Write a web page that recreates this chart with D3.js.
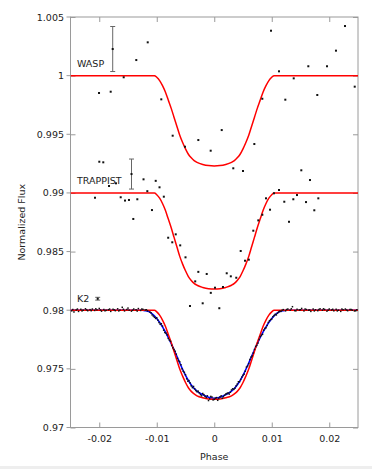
<!DOCTYPE html>
<html><head><meta charset="utf-8">
<script src="https://cdn.jsdelivr.net/npm/d3@7"></script>
<style>
html,body{margin:0;padding:0;background:#fff;}
svg{display:block;font-family:"DejaVu Sans",sans-serif;}
</style></head>
<body><svg id="c" width="372" height="469"></svg>
<script>
// ---- axis ticks ----
const xTicks = [-0.02, -0.01, 0, 0.01, 0.02];
const xTickLabels = ["-0.02", "-0.01", "0", "0.01", "0.02"];
const yTicks = [0.97, 0.975, 0.98, 0.985, 0.99, 0.995, 1, 1.005];
const yTickLabels = ["0.97", "0.975", "0.98", "0.985", "0.99", "0.995", "1", "1.005"];
const seriesNames = ["WASP", "TRAPPIST", "K2"];

// ---- data: [phase, flux] ----
const waspData = [
[-0.02004,0.99852],[-0.01801,0.99863],[-0.01575,0.99986],[-0.01356,1.00133],[-0.01157,1.00284],
[-0.00921,0.99798],[-0.00723,0.99488],[-0.00509,0.99394],[-0.00277,0.99451],[-0.00062,0.99360],
[0.00130,0.99536],[0.00331,0.99210],[0.00500,0.99187],[0.00697,0.99417],[0.00836,0.99803],
[0.00987,1.00383],[0.01126,1.00037],[0.01236,0.99795],[0.01382,0.99977],[0.01636,1.00080],
[0.01792,0.99835],[0.01961,1.00080],[0.02117,1.00213],[0.02274,1.00423],[0.02443,0.99906]
];
const trappistData = [
[-0.02074,0.98959],[-0.01999,0.99266],[-0.01930,0.99261],[-0.01830,0.99059],[-0.01709,0.99082],
[-0.01627,0.98963],[-0.01552,0.98935],[-0.01483,0.98940],[-0.01408,0.98778],[-0.01338,0.98946],
[-0.01230,0.99116],[-0.01164,0.99015],[-0.01083,0.98854],[-0.01018,0.99103],[-0.00952,0.99048],
[-0.00877,0.98968],[-0.00801,0.98618],[-0.00730,0.98579],[-0.00670,0.98647],[-0.00592,0.98553],
[-0.00500,0.98451],[-0.00422,0.98036],[-0.00331,0.98246],[-0.00277,0.98327],[-0.00201,0.98059],
[-0.00131,0.98309],[-0.00060,0.98148],[0.00013,0.98192],[0.00088,0.98017],[0.00152,0.98198],
[0.00217,0.98315],[0.00288,0.98289],[0.00383,0.98277],[0.00460,0.98505],[0.00535,0.98422],
[0.00601,0.98431],[0.00679,0.98678],[0.00766,0.98766],[0.00836,0.98814],[0.00900,0.98954],
[0.00970,0.98857],[0.01039,0.98997],[0.01126,0.99025],[0.01218,0.98925],[0.01300,0.98754],
[0.01375,0.98946],[0.01439,0.98982],[0.01514,0.99193],[0.01596,0.98922],[0.01665,0.99110],
[0.01740,0.98852],[0.01810,0.98954]
];
const k2Data = [
[-0.0248,0.97995],[-0.0244,0.97985],[-0.0240,0.98002],[-0.0236,0.97990],[-0.0232,0.98008],
[-0.0228,0.98000],[-0.0224,0.98012],[-0.0220,0.97996],[-0.0216,0.98005],[-0.0212,0.98010],
[-0.0208,0.97998],[-0.0204,0.98003],[-0.0200,0.98015],[-0.0196,0.97992],[-0.0192,0.98006],
[-0.0188,0.97999],[-0.0184,0.98004],[-0.0180,0.97990],[-0.0176,0.98008],[-0.0172,0.97996],
[-0.0168,0.98012],[-0.0164,0.98001],[-0.0160,0.98025],[-0.0156,0.97994],[-0.0152,0.98006],
[-0.0148,0.98000],[-0.0144,0.97992],[-0.0140,0.98010],[-0.0136,0.98004],[-0.0132,0.98014],
[-0.0128,0.97998],[-0.0124,0.98007],[-0.0120,0.98002],[-0.0116,0.97995],
[-0.0246,0.98006],[-0.0238,0.98010],[-0.0230,0.97994],[-0.0222,0.98003],[-0.0214,0.97996],
[-0.0206,0.98012],[-0.0198,0.98002],[-0.0190,0.97995],[-0.0182,0.98010],[-0.0174,0.98003],
[-0.0166,0.97994],[-0.0158,0.98008],[-0.0150,0.98018],[-0.0142,0.98000],[-0.0134,0.97993],
[-0.0126,0.98010],[-0.0118,0.98004],
[-0.0112,0.97985],[-0.0108,0.97960],[-0.0104,0.97940],[-0.0100,0.97935],[-0.0096,0.97895],
[-0.0092,0.97885],[-0.0088,0.97830],[-0.0084,0.97805],[-0.0080,0.97760],[-0.0076,0.97735],
[-0.0072,0.97680],[-0.0068,0.97650],[-0.0064,0.97590],[-0.0060,0.97560],[-0.0056,0.97500],
[-0.0052,0.97470],[-0.0048,0.97415],[-0.0044,0.97400],[-0.0040,0.97355],[-0.0036,0.97350],
[-0.0032,0.97315],[-0.0028,0.97310],[-0.0024,0.97280],[-0.0020,0.97290],[-0.0016,0.97265],
[-0.0012,0.97270],[-0.0008,0.97245],[-0.0004,0.97260],[0.0000,0.97240],[0.0004,0.97255],
[0.0008,0.97248],[0.0012,0.97270],[0.0016,0.97262],[0.0020,0.97285],[0.0024,0.97295],
[0.0028,0.97300],[0.0032,0.97330],[0.0036,0.97335],[0.0040,0.97370],[0.0044,0.97390],
[0.0048,0.97430],[0.0052,0.97455],[0.0056,0.97515],[0.0060,0.97545],[0.0064,0.97600],
[0.0068,0.97635],[0.0072,0.97690],[0.0076,0.97720],[0.0080,0.97775],[0.0084,0.97795],
[0.0088,0.97845],[0.0092,0.97870],[0.0096,0.97910],[0.0100,0.97925],[0.0104,0.97955],
[0.0108,0.97960],[0.0112,0.97985],[0.0116,0.97990],
[-0.0110,0.97978],[-0.0106,0.97950],[-0.0102,0.97930],[-0.0098,0.97915],[-0.0094,0.97880],
[-0.0090,0.97865],[-0.0086,0.97810],[-0.0082,0.97790],[-0.0078,0.97745],[-0.0074,0.97700],
[-0.0070,0.97665],[-0.0066,0.97625],[-0.0062,0.97570],[-0.0058,0.97535],[-0.0054,0.97480],
[-0.0050,0.97450],[-0.0046,0.97395],[-0.0042,0.97380],[-0.0038,0.97340],[-0.0034,0.97330],
[-0.0030,0.97305],[-0.0026,0.97295],[-0.0022,0.97270],[-0.0018,0.97280],[-0.0014,0.97255],
[-0.0010,0.97230],[-0.0006,0.97265],[-0.0002,0.97235],[0.0002,0.97250],[0.0006,0.97232],
[0.0010,0.97262],[0.0014,0.97250],[0.0018,0.97275],[0.0022,0.97290],[0.0026,0.97285],
[0.0030,0.97320],[0.0034,0.97325],[0.0038,0.97355],[0.0042,0.97390],[0.0046,0.97410],
[0.0050,0.97445],[0.0054,0.97480],[0.0058,0.97525],[0.0062,0.97580],[0.0066,0.97610],
[0.0070,0.97665],[0.0074,0.97700],[0.0078,0.97750],[0.0082,0.97785],[0.0086,0.97830],
[0.0090,0.97850],[0.0094,0.97895],[0.0098,0.97920],[0.0102,0.97945],[0.0106,0.97965],
[0.0110,0.97975],[0.0114,0.97992],
[0.0120,0.98005],[0.0124,0.97995],[0.0128,0.98010],[0.0132,0.98000],[0.0136,0.98030],
[0.0140,0.97996],[0.0144,0.98008],[0.0148,0.98002],[0.0152,0.98015],[0.0156,0.97994],
[0.0160,0.98006],[0.0164,0.98000],[0.0168,0.97990],[0.0172,0.98010],[0.0176,0.98004],
[0.0180,0.97996],[0.0184,0.98012],[0.0188,0.98000],[0.0192,0.98006],[0.0196,0.97992],
[0.0200,0.98010],[0.0204,0.98002],[0.0208,0.97995],[0.0212,0.98008],[0.0216,0.98000],
[0.0220,0.97990],[0.0224,0.98004],[0.0228,0.98010],[0.0232,0.97996],[0.0236,0.98006],
[0.0240,0.98000],[0.0244,0.97994],[0.0248,0.98004],
[0.0118,0.98000],[0.0126,0.98006],[0.0134,0.98012],[0.0142,0.97995],[0.0150,0.98004],
[0.0158,0.98010],[0.0166,0.98002],[0.0174,0.97994],[0.0182,0.98006],[0.0190,0.98012],
[0.0198,0.98000],[0.0206,0.98008],[0.0214,0.97994],[0.0222,0.98010],[0.0230,0.98002],
[0.0238,0.98006],[0.0246,0.97996]
];
// error-bar markers: [phase, flux, halfError]
const errorBars = [
[-0.01766, 1.00227, 0.00192],
[-0.01439, 0.99161, 0.00128],
[-0.02027, 0.98098, 0.00012]
];

// ---- model curves ----
const modelPhase = [-0.025,-0.0104,-0.0100,-0.0095,-0.0090,-0.0085,-0.0080,-0.0075,-0.0070,-0.0065,
 -0.0060,-0.0055,-0.0050,-0.0045,-0.0040,-0.0035,-0.0030,-0.0020,-0.0010,0,
 0.0010,0.0020,0.0030,0.0035,0.0040,0.0045,0.0050,0.0055,0.0060,0.0065,
 0.0070,0.0075,0.0080,0.0085,0.0090,0.0095,0.0100,0.0104,0.025];
const waspModel = [1,1,0.99986,0.99958,0.99915,0.99861,0.99792,0.99723,0.99646,0.99569,
 0.99492,0.99430,0.99376,0.99330,0.99299,0.99276,0.99261,0.99243,0.99233,0.99230,
 0.99233,0.99243,0.99261,0.99276,0.99299,0.99330,0.99376,0.99430,0.99492,0.99569,
 0.99646,0.99723,0.99792,0.99861,0.99915,0.99958,0.99986,1,1];
const trappistModel = [0.99,0.99,0.98985,0.98955,0.98910,0.98852,0.98779,0.98705,0.98623,0.98541,
 0.98459,0.98393,0.98336,0.98287,0.98254,0.98229,0.98213,0.98194,0.98183,0.98180,
 0.98183,0.98194,0.98213,0.98229,0.98254,0.98287,0.98336,0.98393,0.98459,0.98541,
 0.98623,0.98705,0.98779,0.98852,0.98910,0.98955,0.98985,0.99,0.99];
const k2Model = [0.98,0.98,0.97986,0.97958,0.97916,0.97863,0.97795,0.97726,0.97650,0.97574,
 0.97498,0.97438,0.97384,0.97339,0.97308,0.97286,0.97270,0.97253,0.97243,0.97240,
 0.97243,0.97253,0.97270,0.97286,0.97308,0.97339,0.97384,0.97438,0.97498,0.97574,
 0.97650,0.97726,0.97795,0.97863,0.97916,0.97958,0.97986,0.98,0.98];
const k2BluePhase = [-0.025,-0.0125,-0.012,-0.011,-0.010,-0.009,-0.008,-0.007,-0.006,-0.005,-0.004,-0.003,-0.002,-0.001,0,
 0.001,0.002,0.003,0.004,0.005,0.006,0.007,0.008,0.009,0.010,0.011,0.012,0.0125,0.025];
const k2BlueModel = [0.98,0.98,0.97996,0.97978,0.97929,0.97858,0.97768,0.97663,0.97550,0.97445,0.97363,0.97310,0.97280,0.97258,0.97250,
 0.97258,0.97280,0.97310,0.97363,0.97445,0.97550,0.97663,0.97768,0.97858,0.97929,0.97978,0.97996,0.98,0.98];
// series label anchor levels (flux)
const labelFlux = [1.00074, 0.99076, 0.98072];

// ---- drawing ----
const svg = d3.select("#c");
const L = 70.5, R = 358, T = 17, B = 427.5;
const x = d3.scaleLinear().domain([-0.025, 0.025]).range([L, R]);
const y = d3.scaleLinear().domain([0.97, 1.005]).range([B, T]);
const frame = "#9a9a9a", textCol = "#222";

// bottom strip
svg.append("rect").attr("x",0).attr("y",466).attr("width",372).attr("height",3).attr("fill","#eeeeee");

// frame
svg.append("rect").attr("x",L).attr("y",T).attr("width",R-L).attr("height",B-T)
  .attr("fill","none").attr("stroke",frame).attr("stroke-width",1);

const styleAxis = g => {
  g.select(".domain").remove();
  g.selectAll(".tick line").attr("stroke", frame);
  g.selectAll(".tick text").attr("fill", textCol).style("font-size","9.5px").style("font-family","DejaVu Sans");
};
svg.append("g").attr("transform",`translate(${L},0)`)
  .call(d3.axisLeft(y).tickValues(yTicks).tickFormat((d,i)=>yTickLabels[i]).tickSizeInner(-5).tickSizeOuter(0).tickPadding(6.5))
  .call(styleAxis);
// outward part of left ticks
svg.append("g").selectAll("line").data(yTicks).join("line")
  .attr("x1",L-4).attr("x2",L).attr("y1",d=>y(d)).attr("y2",d=>y(d)).attr("stroke",frame);
svg.append("g").attr("transform",`translate(${R},0)`)
  .call(d3.axisRight(y).tickValues(yTicks).tickFormat("").tickSizeInner(-5).tickSizeOuter(0))
  .call(styleAxis);
svg.append("g").attr("transform",`translate(0,${B})`)
  .call(d3.axisBottom(x).tickValues(xTicks).tickFormat((d,i)=>xTickLabels[i]).tickSizeInner(-5).tickSizeOuter(0).tickPadding(8))
  .call(styleAxis);
svg.append("g").attr("transform",`translate(0,${T})`)
  .call(d3.axisTop(x).tickValues(xTicks).tickFormat("").tickSizeInner(-5).tickSizeOuter(0))
  .call(styleAxis);

// axis titles
svg.append("text").attr("x",(L+R)/2).attr("y",460).attr("text-anchor","middle")
  .attr("fill",textCol).style("font-size","9.5px").text("Phase");
svg.append("text").attr("transform",`translate(25,${(T+B)/2}) rotate(-90)`).attr("text-anchor","middle")
  .attr("fill",textCol).style("font-size","9.5px").text("Normalized Flux");

// model curves
const line = d3.line().x(d=>x(d[0])).y(d=>y(d[1])).curve(d3.curveMonotoneX);
const zip = (a,b) => a.map((v,i)=>[v,b[i]]);
const clipId = "plotclip";
svg.append("clipPath").attr("id",clipId).append("rect").attr("x",L).attr("y",T).attr("width",R-L).attr("height",B-T);
const plot = svg.append("g").attr("clip-path",`url(#${clipId})`);
plot.append("path").datum(zip(k2BluePhase,k2BlueModel)).attr("d",line)
  .attr("fill","none").attr("stroke","#0000ff").attr("stroke-width",1.6);
[waspModel, trappistModel, k2Model].forEach(m => {
  plot.append("path").datum(zip(modelPhase,m)).attr("d",line)
    .attr("fill","none").attr("stroke","#ff0000").attr("stroke-width",1.5);
});

// error bars
const eb = plot.append("g").attr("stroke","#666").attr("stroke-width",1);
errorBars.forEach(([p,f,e]) => {
  eb.append("line").attr("x1",x(p)).attr("x2",x(p)).attr("y1",y(f+e)).attr("y2",y(f-e));
  eb.append("line").attr("x1",x(p)-2.5).attr("x2",x(p)+2.5).attr("y1",y(f+e)).attr("y2",y(f+e));
  eb.append("line").attr("x1",x(p)-2.5).attr("x2",x(p)+2.5).attr("y1",y(f-e)).attr("y2",y(f-e));
});

// points
const pts = [].concat(waspData, trappistData, errorBars.map(d=>[d[0],d[1]]));
plot.append("g").selectAll("rect").data(pts).join("rect")
  .attr("x",d=>x(d[0])-1).attr("y",d=>y(d[1])-1).attr("width",2).attr("height",2).attr("fill","#111");
plot.append("g").selectAll("rect").data(k2Data).join("rect")
  .attr("x",d=>x(d[0])-0.75).attr("y",d=>y(d[1])-0.75).attr("width",1.5).attr("height",1.5).attr("fill","#111");

// series labels
seriesNames.forEach((n,i) => {
  svg.append("text").attr("x",77).attr("y",y(labelFlux[i])).attr("fill",textCol)
    .style("font-size","9.5px").text(n);
});
</script></body></html>
